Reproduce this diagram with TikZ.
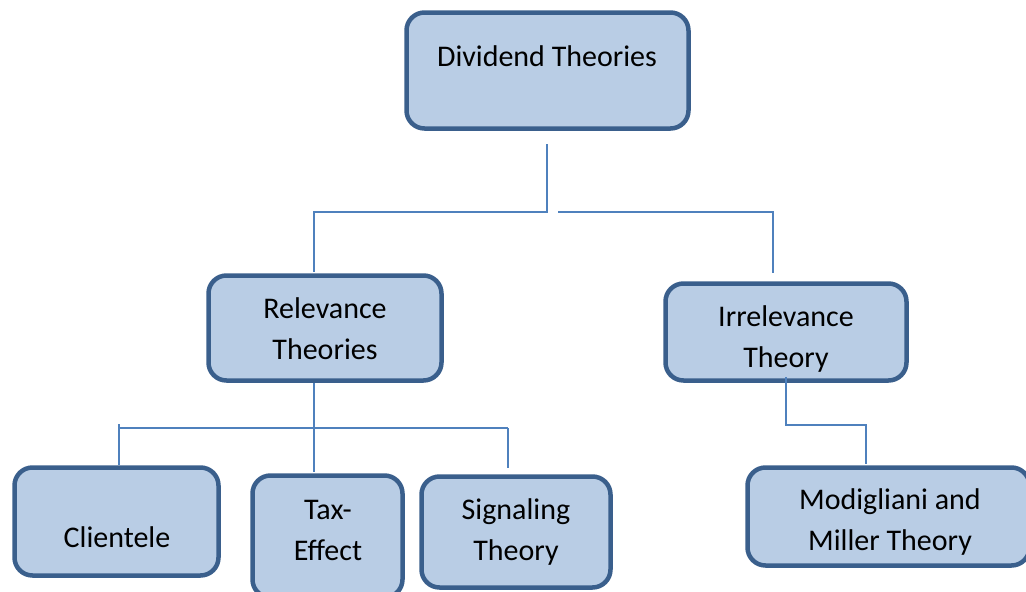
\documentclass[tikz,border=0pt]{standalone}
\usepackage{fontspec}
\setmainfont{Carlito}
\usepackage{xcolor}
\definecolor{boxfill}{HTML}{B9CDE5}
\definecolor{boxline}{HTML}{3A5F8C}
\definecolor{linkblue}{HTML}{4F81BD}
\usepackage{tikz}
\usetikzlibrary{positioning}

\begin{document}
\begin{tikzpicture}[x=1pt, y=-1pt,
    box/.style={draw=boxline, fill=boxfill, line width=4.5pt,
                rounded corners=18pt, inner sep=0pt},
    txt/.style={font=\fontsize{30}{41}\selectfont, align=center, anchor=base, inner sep=0pt},
    link/.style={draw=linkblue, line width=1.6pt}]
  \useasboundingbox (0,0) rectangle (1026,592);

  % boxes
  \node[box, minimum width=282pt, minimum height=116pt] (div) at (547.5, 70.5) {};
  \node[box, minimum width=233pt, minimum height=105pt] (rel) at (325,   328)  {};
  \node[box, minimum width=241pt, minimum height=97pt]  (irr) at (786,   332)  {};
  \node[box, minimum width=204pt, minimum height=108pt] (cli) at (116.5, 521.5) {};
  \node[box, minimum width=150pt, minimum height=122pt] (tax) at (327.5, 536.5) {};
  \node[box, minimum width=189pt, minimum height=111pt] (sig) at (516,   532)  {};
  \node[box, minimum width=282pt, minimum height=98pt]  (mm)  at (888.5, 516.5) {};

  % labels (base = last line)
  \node[txt] (divt) at (547, 66)  {Dividend Theories};
  \node[txt] (relt) at (325, 359) {Relevance\\Theories};
  \node[txt] (irrt) at (786, 367) {Irrelevance\\Theory};
  \node[txt] (clit) at (117, 547) {Clientele};
  \node[txt] (taxt) at (328, 560) {Tax-\\Effect};
  \node[txt] (sigt) at (516, 560) {Signaling\\Theory};
  \node[txt] (mmt)  at (890, 550) {Modigliani and\\Miller Theory};

  % connectors
  \coordinate (d1)   at (547, 144);
  \coordinate (d2)   at (547, 212);
  \coordinate (d3)   at (558, 212);
  \coordinate (rtop) at (314, 272);
  \coordinate (itop) at (773, 273);
  \draw[link] (d1) -- (d2) -| (rtop);
  \draw[link] (d3) -| (itop);

  \coordinate (r1)   at (314, 383);
  \coordinate (ttop) at (314, 472);
  \coordinate (cj)   at (119, 428);
  \coordinate (sj)   at (508, 428);
  \coordinate (ctop) at (119, 465);
  \coordinate (stop) at (508, 468);
  \draw[link] (r1) -- (ttop);
  \draw[link] (cj) -- (sj);
  \draw[link] (119, 424) -- (ctop);
  \draw[link] (sj) -- (stop);

  \coordinate (i1)   at (786, 377);
  \coordinate (i2)   at (786, 425);
  \coordinate (mtop) at (866, 464);
  \draw[link] (i1) -- (i2) -| (mtop);
\end{tikzpicture}
\end{document}
